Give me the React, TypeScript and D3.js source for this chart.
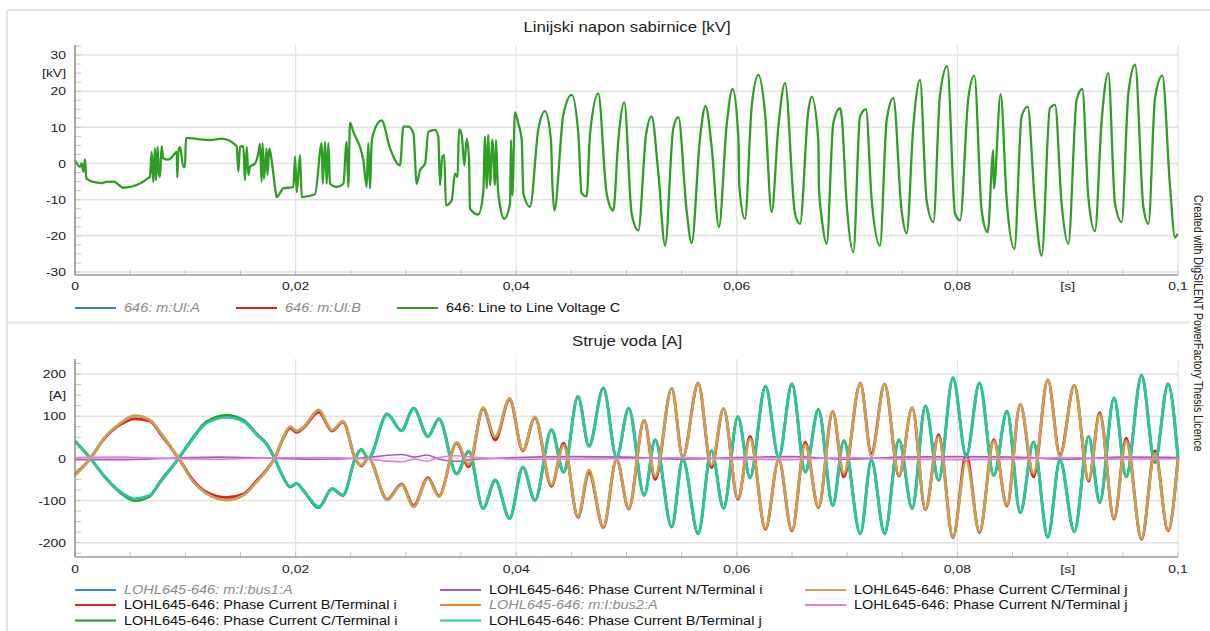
import React from 'react';
import * as d3 from 'd3';

type Pt = [number, number];
type Row = [number, number, number, number, number];

// ---- axes ----
const timeTicks = [0, 0.02, 0.04, 0.06, 0.08, 0.1];
const timeLabels = ['0', '0,02', '0,04', '0,06', '0,08', '0,1'];
const timeUnit = { at: 0.09, label: '[s]' };
const voltTicks = [30, 20, 10, 0, -10, -20, -30];
const voltUnit = { at: 25, label: '[kV]' };
const currTicks = [200, 100, 0, -100, -200];
const currUnit = { at: 150, label: '[A]' };

// ---- 646: Line to Line Voltage C  [t ms, kV] ----
const voltOnset: Pt[] = [
  [0, 0.9], [0.45, -0.9], [0.6, 0], [0.76, -2.3], [0.91, 1.1], [1.0, -3.2], [1.06, -4.2], [1.66, -5.1],
  [2.42, -5.4], [2.87, -5.1], [3.5, -5.0], [4.38, -6.7], [6.8, -3.7], [6.95, 3.2], [7.1, -5.1], [7.25, 4.2],
  [7.34, -4.6], [7.49, 4.6], [7.6, -2.8], [7.7, -3.7], [7.86, 4.8], [8.0, 1.4], [8.46, 1.1], [9.07, 2.8],
  [9.22, 3.2], [9.28, -3.9], [9.37, 3.2], [9.52, 4.6], [9.82, -0.9], [9.97, -0.9], [10.06, 7.1], [11.03, 6.8],
  [12.24, 6.5], [13.3, 6.9], [14.66, 4.8], [14.81, -2.3], [14.96, 4.6], [15.26, 4.8], [15.41, -4.6], [15.57, 4.6],
  [15.72, -3.2], [15.87, -0.9], [16.32, 0], [16.62, 2.8], [16.77, 5.4], [16.92, -5.1], [17.01, 5.6], [17.13, -4.2],
  [17.38, 4.2], [17.44, -3.2], [17.62, 4.2], [17.83, 0.9],
];
const voltBuild: Pt[] = [
  [18.13, -6.5], [18.28, -9.3], [18.89, -6.9], [19.8, -6.5], [19.95, 1.9], [20.1, -7.9], [20.4, 2.3], [20.55, -9.3],
  [21.76, -8.5], [22.37, 5.6], [22.46, -5.6], [22.67, 6.0], [22.82, -5.6], [22.97, 5.6], [23.12, -5.6], [23.72, -6.5],
  [24.33, -5.6], [24.63, 6.0], [24.78, -6.5], [24.93, 11.3], [25.23, 8.8], [26.14, 0.9], [26.44, -6.5], [26.59, 5.6],
  [26.75, -6.9], [26.9, 6.0], [27.05, 8.3], [27.8, 11.9], [28.56, 4.2], [29.47, -0.5], [29.77, 10.2], [30.23, 10.2],
  [30.68, 8.3], [30.98, -5.6], [31.28, -1.9], [31.74, 0], [32.04, 8.8], [32.64, 9.3], [32.94, 7.4], [33.09, -6.0],
];
const voltGrowth: Pt[] = [
  [33.3, 1.9], [33.48, 2.3], [33.63, -11.6], [34.15, -10.2], [34.45, -2.8], [34.69, -3.7], [34.81, 9.4], [35.06, 7.9],
  [35.3, -0.5], [35.51, 6.9], [35.72, 1.4], [35.81, -12.5], [36.56, -14.1], [37.02, -7.9], [37.17, 7.4], [37.32, -6.9],
  [37.47, 7.9], [37.62, -6.0], [37.84, 6.5], [38.08, -6.0], [38.17, 6.5], [38.32, -5.6], [38.53, -11.6], [38.92, -15.3],
  [39.44, -11.1], [39.53, 6.5], [39.65, -8.8], [39.89, 14.1], [40.19, 11.1], [40.5, 6.5], [40.65, -8.3], [41.25, -12.0],
  [42.0, 9.3], [42.61, 14.5], [43.15, 6.5], [43.28, -5.6], [43.46, -13.0], [44.27, 13.4], [45.03, 19.0], [45.63, 8.3],
  [45.93, -8.3], [46.39, -9.1], [46.69, 7.9], [47.44, 19.4], [48.2, -8.3], [48.8, -13.0], [49.26, 6.5], [49.8, 16.9],
  [50.47, -13.9], [51.07, -18.5], [51.77, 7.9], [52.28, 13.0], [52.89, -2.8], [53.5, -22.7], [54.24, 9.7], [54.7, 12.8],
  [55.45, -13.0], [55.91, -22.0], [56.66, 6.9], [57.17, 15.9], [57.72, 4.6], [58.38, -17.6], [59.08, 10.6], [59.62, 20.6],
  [60.14, 7.4], [60.23, -6.4], [60.74, -15.3], [61.35, 15.7], [61.95, 24.5], [62.56, 13.9], [63.16, -13.4], [63.77, 10.2],
  [64.37, 22.2], [65.28, -13.9], [65.73, -16.7],
];
const voltSteady: Pt[] = [
  [66.48, 14.4], [66.79, 18.5], [67.39, 6.5], [67.45, -6.9], [67.69, -14.8], [68.15, -22.2], [68.75, 11.1], [69.36, 15.3],
  [69.51, 13.0], [69.96, -11.1], [70.57, -24.5], [71.17, 13.0], [71.71, 15.0], [72.23, -10.2], [72.98, -22.7], [73.59, 12.0],
  [74.19, 18.1], [74.94, -13.0], [75.4, -19.3], [76.0, 10.2], [76.61, 23.1], [77.21, -10.2], [77.82, -16.2], [78.42, 18.9],
  [79.08, 26.9], [79.79, -13.9], [80.24, -15.7], [80.99, 18.1], [81.54, 24.3], [82.2, -13.0], [82.74, -19.0], [83.26, 3.7],
  [83.3, -6.9], [83.92, 19.2], [84.47, -10.2], [85.17, -23.6], [85.82, 13.0], [86.37, 15.7], [87.03, -11.1], [87.64, -25.5],
  [88.39, 15.3], [88.85, 16.2], [89.45, -11.1], [90.06, -22.2], [90.81, 17.6], [91.32, 20.6], [91.87, -9.3], [92.47, -18.7],
  [93.08, 12.0], [93.68, 25.0], [94.29, -11.1], [94.89, -16.2], [95.5, 19.4], [96.11, 27.3], [96.86, -12.0], [97.32, -16.7],
  [97.92, 18.1], [98.58, 24.3], [99.28, -6.5], [99.73, -20.4], [99.97, -19.4],
];

// ---- line currents [t ms, B/Terminal i, C/Terminal i, B/Terminal j, C/Terminal j] in A ----
const currentsEarly: Row[] = [
  [0, -38, 41, 40, -40], [1.4, 0, 0, 0, 0], [2.6, 45, -41, -40, 47], [4.1, 80, -81, -79, 83],
  [5.4, 94, -100, -96, 101], [6.8, 88, -89, -87, 91], [7.7, 60, -57, -55, 63], [9.4, 0, 0, 0, 0],
  [10.7, -52, 49, 47, -55], [11.9, -80, 86, 83, -83], [13.75, -93, 102, 97, -99], [15.3, -84, 90, 87, -87],
  [16.5, -52, 57, 55, -55], [17.4, -26, 33, 32, -28], [18.1, 0, 0, 0, 0], [18.8, 43, -41, -40, 45],
  [19.5, 72, -68, -67, 75], [20.1, 62, -60, -59, 65], [20.7, 72, -76, -75, 74], [22.1, 110, -117, -115, 115],
  [23.3, 65, -72, -71, 67], [24.3, 86, -88, -87, 88], [25.4, 0, 0, 0, 0], [25.95, -18, 21, 20, -16],
  [26.6, 0, 0, 0, 0], [28.3, -97, 105, 104, -99], [29.6, -61, 66, 65, -63], [30.7, -112, 119, 118, -115],
  [32.0, -46, 52, 51, -48], [33.0, -89, 94, 93, -91],
];
const currentsMid: Row[] = [
  [34.6, 36, -37, -36, 38], [35.7, -20, 17, 16, -14], [37.0, 118, -119, -118, 120], [38.1, 44, -52, -51, 51],
  [39.4, 140, -143, -142, 142], [40.6, 18, -21, -20, 20], [41.7, 96, -100, -99, 98], [43.2, -66, 68, 67, -63],
  [44.3, 36, -33, -32, 31], [45.6, -140, 147, 146, -138], [46.6, -34, 29, 28, -28], [47.9, -164, 167, 166, -162],
  [49.1, -3, 2, 2, -2], [50.2, -120, 119, 118, -118], [51.6, 90, -88, -87, 91], [52.6, -50, 44, 43, -43],
  [54.1, 166, -163, -162, 166], [55.1, 3, -2, -2, 2], [56.5, 178, -179, -178, 178], [57.7, -22, 19, 18, -16],
  [58.8, 118, -119, -118, 118], [60.1, -97, 99, 98, -95], [61.2, 52, -46, -45, 47], [62.6, -168, 171, 170, -166],
  [63.8, -3, 2, 2, -2], [65.0, -172, 177, 176, -170], [66.2, 38, -33, -32, 33],
];
const currentsLate: Row[] = [
  [67.4, -117, 116, 115, -115], [68.7, 111, -112, -111, 111], [69.7, -44, 42, 41, -36], [71.2, 178, -179, -178, 178],
  [72.2, 12, -4, -4, 5], [73.4, 176, -179, -178, 176], [74.7, -42, 44, 43, -40], [75.9, 120, -119, -118, 120],
  [77.1, -122, 124, 123, -120], [78.3, 56, -52, -51, 51], [79.6, -188, 191, 190, -186], [80.8, 10, 6, 4, -5],
  [82.0, -176, 179, 178, -174], [83.3, 44, -41, -40, 41], [84.5, -113, 112, 111, -111], [85.7, 128, -129, -128, 128],
  [86.9, -44, 39, 38, -36], [88.2, 186, -187, -186, 186], [89.3, 8, -4, -4, 4], [90.6, 173, -174, -173, 173],
  [91.9, -54, 52, 51, -51], [92.9, 108, -105, -104, 104], [94.2, -144, 143, 142, -142], [95.3, 48, -44, -43, 41],
  [96.7, -192, 197, 196, -190], [97.9, 18, -10, -6, 12], [99.1, -172, 177, 176, -170], [100, 0, 0, 0, 0],
];

// ---- neutral currents [t ms, N/Terminal i, N/Terminal j] ----
const neutralRows: [number, number, number][] = [
  [0, -3, 2], [4, -3, 3], [9.4, 1, -1], [13, 3, -2], [18, 0, 1], [22, -2, 2], [26, 1, -1], [29.6, 9, -8],
  [30.8, 3, -2], [31.9, 8, -7], [33, -2, 2], [34.5, -7, 6], [36, -3, 3], [40, 2, -2], [45, 4, -2], [50, 3, -1],
  [55, -2, 2], [60, 2, -2], [65, 4, -3], [70, -2, 2], [75, 3, -2], [80, 4, -3], [85, 3, -2], [90, -2, 2],
  [95, 3, -2], [100, 2, -1],
];

const voltLegend = [
  { label: '646: m:Ul:A', color: '#3f7fc8', muted: true },
  { label: '646: m:Ul:B', color: '#d8261d', muted: true },
  { label: '646: Line to Line Voltage C', color: '#2f9e25', muted: false },
];
const currLegend = [
  { label: 'LOHL645-646: m:I:bus1:A', color: '#3f88c8', muted: true },
  { label: 'LOHL645-646: Phase Current B/Terminal i', color: '#d8261d', muted: false },
  { label: 'LOHL645-646: Phase Current C/Terminal i', color: '#2b9a2e', muted: false },
  { label: 'LOHL645-646: Phase Current N/Terminal i', color: '#a65cbf', muted: false },
  { label: 'LOHL645-646: m:I:bus2:A', color: '#e8892b', muted: true },
  { label: 'LOHL645-646: Phase Current B/Terminal j', color: '#2dc59f', muted: false },
  { label: 'LOHL645-646: Phase Current C/Terminal j', color: '#c9a658', muted: false },
  { label: 'LOHL645-646: Phase Current N/Terminal j', color: '#ea7bd2', muted: false },
];

const FONT = '"Liberation Sans", Arial, Helvetica, sans-serif';
const GRID = '#e2e2e2';
const STRETCH = 1.2; // the export is wider than tall
const x = d3.scaleLinear().domain([0, 0.1]).range([75, 1178]);

const pathOf = (y: d3.ScaleLinear<number, number>, pts: Pt[]) =>
  d3.line<Pt>().x(d => x(d[0] / 1000)).y(d => y(d[1])).curve(d3.curveMonotoneX)(pts) || '';

// text drawn with the same horizontal stretch as the exported picture
const SText = ({ x: tx, y: ty, size, anchor = 'start', fill = '#222', italic = false, children }:
  { x: number; y: number; size: number; anchor?: string; fill?: string; italic?: boolean; children: React.ReactNode }) => (
  <text transform={`translate(${tx},${ty}) scale(${STRETCH},1)`} textAnchor={anchor} fontSize={size}
    fill={fill} fontStyle={italic ? 'italic' : 'normal'}>
    {children}
  </text>
);

interface PanelProps {
  y: d3.ScaleLinear<number, number>;
  top: number;
  bottom: number;
  ticks: number[];
  minorStep: number;
  unit: { at: number; label: string };
  title: string;
  titleY: number;
  labelY: number;
  children?: React.ReactNode;
}

const Panel = ({ y, top, bottom, ticks, minorStep, unit, title, titleY, labelY, children }: PanelProps) => {
  const lo = y.invert(bottom);
  const hi = y.invert(top);
  const minorY = d3.range(Math.ceil(lo / minorStep) * minorStep, hi, minorStep);
  const minorX = d3.range(0, 0.1001, 0.005);
  return (
    <g>
      <SText x={627} y={titleY} size={14} anchor="middle">{title}</SText>
      {ticks.map(t => (
        <line key={'h' + t} x1={x(0)} x2={x(0.1)} y1={y(t)} y2={y(t)} stroke={GRID} strokeWidth={1.5} />
      ))}
      {timeTicks.slice(1).map(t => (
        <line key={'v' + t} x1={x(t)} x2={x(t)} y1={top} y2={bottom} stroke={GRID} strokeWidth={1.2} />
      ))}
      {minorY.map(t => (
        <line key={'my' + t} x1={x(0)} x2={x(0) + 6} y1={y(t)} y2={y(t)} stroke="#c4c4c4" strokeWidth={1} />
      ))}
      {minorX.map(t => (
        <line key={'mx' + t} x1={x(t)} x2={x(t)} y1={bottom} y2={bottom - 5} stroke="#c4c4c4" strokeWidth={1} />
      ))}
      <g>{children}</g>
      <line x1={x(0)} x2={x(0)} y1={top} y2={bottom} stroke="#8c8c8c" strokeWidth={1.5} />
      <line x1={x(0)} x2={x(0.1)} y1={bottom} y2={bottom} stroke="#9a9a9a" strokeWidth={1.5} />
      {ticks.map(t => (
        <SText key={'yl' + t} x={66} y={y(t) + 4.2} size={11.6} anchor="end">{t}</SText>
      ))}
      <SText x={66} y={y(unit.at) + 4.2} size={11.6} anchor="end">{unit.label}</SText>
      {timeTicks.map((t, i) => (
        <SText key={'xl' + t} x={x(t)} y={labelY} size={11.6} anchor="middle">{timeLabels[i]}</SText>
      ))}
      <SText x={x(timeUnit.at)} y={labelY} size={11.6} anchor="middle">{timeUnit.label}</SText>
    </g>
  );
};

const LegendItem = ({ lx, ly, label, color, muted }: { lx: number; ly: number; label: string; color: string; muted: boolean }) => (
  <g>
    <line x1={lx} x2={lx + 41} y1={ly} y2={ly} stroke={color} strokeWidth={2} />
    <SText x={lx + 49} y={ly + 4.3} size={12.1} fill={muted ? '#8a8a8a' : '#111'} italic={muted}>{label}</SText>
  </g>
);

export default function App() {
  const yV = d3.scaleLinear().domain([-30, 30]).range([272, 55]);
  const yI = d3.scaleLinear().domain([-200, 200]).range([542.7, 374]);

  const volt = [...voltOnset, ...voltBuild, ...voltGrowth, ...voltSteady];
  const rows = [...currentsEarly, ...currentsMid, ...currentsLate];
  const col = (k: number): Pt[] => rows.map(r => [r[0], r[k]]);
  const ncol = (k: number): Pt[] => neutralRows.map(r => [r[0], r[k]]);

  const currSeries = [
    { pts: col(1), color: '#d8261d', w: 2.9 },
    { pts: col(2), color: '#2b9a2e', w: 2.9 },
    { pts: ncol(1), color: '#a65cbf', w: 1.6 },
    { pts: col(3), color: '#2dc59f', w: 2.8 },
    { pts: col(4), color: '#c9a055', w: 2.8 },
    { pts: ncol(2), color: '#ea7bd2', w: 1.6 },
  ];

  const legendCols = [75, 440, 805];
  const legendRows = [590, 605, 620.5];

  return (
    <div style={{ position: 'absolute', left: 0, top: 0, width: 1210, height: 631, background: '#fff' }}>
      <svg width={1210} height={631} style={{ display: 'block', fontFamily: FONT }}>
        <rect width={1210} height={631} fill="#fff" />
        <line x1={7} x2={1210} y1={10} y2={10} stroke="#e4e4e4" strokeWidth={2} />
        <line x1={7} x2={7} y1={10} y2={631} stroke="#e4e4e4" strokeWidth={2} />
        <line x1={7} x2={1190} y1={322.5} y2={322.5} stroke="#e4e4e4" strokeWidth={2} />

        <Panel y={yV} top={45} bottom={275} ticks={voltTicks} minorStep={2.5} unit={voltUnit}
          title="Linijski napon sabirnice [kV]" titleY={32} labelY={289.5}>
          <path d={pathOf(yV, volt)} fill="none" stroke="#2f9e25" strokeWidth={2.3} strokeLinejoin="round" />
        </Panel>
        {voltLegend.map((d, i) => (
          <LegendItem key={d.label} lx={[75, 236, 397][i]} ly={308} label={d.label} color={d.color} muted={d.muted} />
        ))}

        <Panel y={yI} top={359} bottom={557} ticks={currTicks} minorStep={25} unit={currUnit}
          title="Struje voda [A]" titleY={346} labelY={572.5}>
          {currSeries.map((s, i) => (
            <path key={i} d={pathOf(yI, s.pts)} fill="none" stroke={s.color} strokeWidth={s.w} strokeLinejoin="round" />
          ))}
        </Panel>
        {currLegend.map((d, i) => (
          <LegendItem key={d.label} lx={legendCols[Math.floor(i / 3)]} ly={legendRows[i % 3]}
            label={d.label} color={d.color} muted={d.muted} />
        ))}

        <text transform={`translate(1194,195) rotate(90) scale(1,${STRETCH})`} fontSize={10.6} fill="#222">
          Created with DigSILENT PowerFactory Thesis Licence
        </text>
      </svg>
    </div>
  );
}
